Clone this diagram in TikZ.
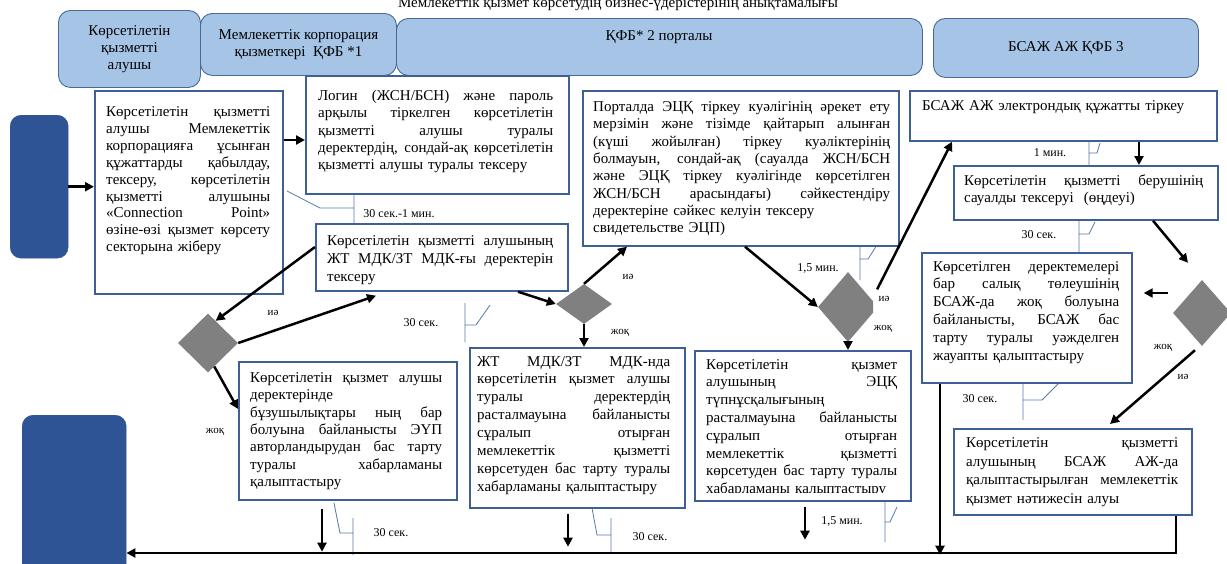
\documentclass[tikz,border=0pt]{standalone}
\usepackage{fontspec}
\setmainfont{Liberation Serif}
\usetikzlibrary{arrows.meta,shapes.geometric}
\definecolor{hdrfill}{RGB}{166,196,230}
\definecolor{hdrline}{RGB}{72,106,152}
\definecolor{navy}{RGB}{47,84,150}
\definecolor{boxline}{RGB}{62,96,150}
\definecolor{calline}{RGB}{88,122,170}
\definecolor{dgray}{RGB}{128,128,128}
\newcommand\bodyfont{\fontsize{15pt}{17.3pt}\selectfont}
\newcommand\tmfont{\fontsize{12pt}{14pt}\selectfont}
\newcommand\ynfont{\fontsize{11pt}{13pt}\selectfont}
% one justified line, spaces stretched to the full text width
\newcommand\jline[1]{\leavevmode\hbox to \hsize{\spaceskip=0pt\relax\xspaceskip=0pt\relax #1}}
\tikzset{
  hdr/.style={draw=hdrline, fill=hdrfill, line width=0.9pt, rounded corners=12pt,
    anchor=north west, inner sep=0pt, align=center, font=\fontsize{15pt}{17pt}\selectfont},
  navybox/.style={draw=navy, fill=navy, rounded corners=11pt, anchor=north west, inner sep=0pt},
  box/.style={draw=boxline, fill=white, line width=1.7pt, anchor=north west, inner sep=0pt},
  txt/.style={anchor=base west, inner sep=0pt, text width=#1, align=left, font=\bodyfont},
  dia/.style={shape=diamond, fill=dgray, inner sep=0pt},
  arr/.style={line width=2.5pt, -{Triangle[length=9pt,width=9pt]}},
  cal/.style={draw=calline, line width=0.8pt},
  tm/.style={font=\tmfont, inner sep=1pt},
  yn/.style={font=\ynfont, inner sep=1pt}
}
\begin{document}
\begin{tikzpicture}[x=1pt,y=-1pt]
\useasboundingbox (0,0) rectangle (1227,563);

% title, cut at the top
\node[anchor=base, font=\bodyfont] (title) at (618,7) {Мемлекеттік қызмет көрсетудің бизнес-үдерістерінің анықтамалығы};

% lanes
\node[hdr, minimum width=142pt, minimum height=77pt] (hrecv) at (58,10) {Көрсетілетін\\қызметті\\алушы};
\node[hdr, minimum width=196pt, minimum height=62pt] (hcorp) at (200,13) {Мемлекеттік корпорация\\қызметкері\ \ ҚФБ *1};
\node[hdr, minimum width=526pt, minimum height=57pt] (hportal) at (396,18) {};
\node[font=\bodyfont] (hportaltxt) at (659,37) {ҚФБ* 2 порталы};
\node[hdr, minimum width=265pt, minimum height=59pt] (hbsaj) at (933,18) {БСАЖ АЖ ҚФБ 3};

% start / end
\node[navybox, minimum width=58pt, minimum height=143pt] (db1) at (10,115) {};
\node[navybox, minimum width=104pt, minimum height=166pt] (db2) at (22,415) {};

% time callouts
\draw[cal] (287,191) -- (320,208) -- (354,208) (354,192) -- (354,228);
\draw[cal] (465,303) -- (465,342) (465,325) -- (476,325) -- (490,305);
\draw[cal] (860,242) -- (860,280) (860,259) -- (868,259) -- (877,245);
\draw[cal] (1089,136) -- (1089,170) (1089,153) -- (1097,153) -- (1100,143);
\draw[cal] (1079,217) -- (1079,257) (1079,234) -- (1089,234) -- (1095,222);
\draw[cal] (1023,377) -- (1023,420) (1023,400) -- (1042,400) -- (1059,383);
\draw[cal] (334,503) -- (340,533) -- (353,533) (353,518) -- (353,555);
\draw[cal] (592,508) -- (597,535) -- (611,535) (611,518) -- (611,553);
\draw[cal] (885,502) -- (885,542) (885,522) -- (890,522) -- (897,507);

% boxes
\node[box, minimum width=188pt, minimum height=203pt] (recv) at (94,90) {};
\node[txt=164pt, font=\fontsize{15pt}{16.9pt}\selectfont] (recvtxt) at (106,116.5) {\jline{Көрсетілетін қызметті}\\
\jline{алушы Мемлекеттік}\\
\jline{корпорацияға ұсынған}\\
\jline{құжаттарды қабылдау,}\\
\jline{тексеру, көрсетілетін}\\
\jline{қызметті алушыны}\\
\jline{«Connection Point»}\\
\jline{өзіне-өзі қызмет көрсету}\\
секторына жіберу};

\node[box, minimum width=263pt, minimum height=118pt] (login) at (305,75) {};
\node[txt=235pt] (logintxt) at (318,100.5) {\jline{Логин (ЖСН/БСН) және пароль}\\
\jline{арқылы тіркелген көрсетілетін}\\
\jline{қызметті алушы туралы}\\
\jline{деректердің, сондай-ақ көрсетілетін}\\
қызметті алушы туралы тексеру};

\node[box, minimum width=252pt, minimum height=67pt] (check) at (315,223) {};
\node[txt=226pt, font=\fontsize{15pt}{18pt}\selectfont] (checktxt) at (327,245.5) {\jline{Көрсетілетін қызметті алушының}\\
\jline{ЖТ МДК/ЗТ МДК-ғы деректерін}\\
тексеру};

\node[box, minimum width=316pt, minimum height=155pt] (portal) at (582,90) {};
\node[txt=297pt] (portaltxt) at (593,111.5) {\jline{Порталда ЭЦҚ тіркеу куәлігінің әрекет ету}\\
\jline{мерзімін және тізімде қайтарып алынған}\\
\jline{(күші жойылған) тіркеу куәліктерінің}\\
\jline{болмауын, сондай-ақ (сауалда ЖСН/БСН}\\
\jline{және ЭЦҚ тіркеу куәлігінде көрсетілген}\\
\jline{ЖСН/БСН арасындағы) сәйкестендіру}\\
деректеріне сәйкес келуін тексеру\\
свидетельстве ЭЦП)};

\node[box, minimum width=307pt, minimum height=50pt] (reg) at (909,90) {};
\node[txt=280pt] (regtxt) at (922,110.5) {БСАЖ АЖ электрондық құжатты тіркеу};

\node[box, minimum width=264pt, minimum height=54pt] (proc) at (953,165) {};
\node[txt=239pt] (proctxt) at (964,185.5) {\jline{Көрсетілетін қызметті берушінің}\\
сауалды тексеруі\ \ (өңдеуі)};

\node[box, minimum width=210pt, minimum height=130pt] (refuse) at (921,252) {};
\node[txt=186pt, font=\fontsize{15pt}{17.8pt}\selectfont] (refusetxt) at (933,271) {\jline{Көрсетілген деректемелері}\\
\jline{бар салық төлеушінің}\\
\jline{БСАЖ-да жоқ болуына}\\
\jline{байланысты, БСАЖ бас}\\
\jline{тарту туралы уәжделген}\\
жауапты қалыптастыру};

\node[box, minimum width=218pt, minimum height=138pt] (authno) at (238,361) {};
\node[txt=192pt] (authnotxt) at (250,382.5) {\jline{Көрсетілетін қызмет алушы}\\
деректерінде\\
\jline{бұзушылықтары ның бар}\\
\jline{болуына байланысты ЭҮП}\\
\jline{авторландырудан бас тарту}\\
\jline{туралы хабарламаны}\\
қалыптастыру};

\node[box, minimum width=215pt, minimum height=160pt] (gbdno) at (469,347) {};
\node[txt=193pt, font=\fontsize{15pt}{17.9pt}\selectfont] (gbdnotxt) at (477,366) {\jline{ЖТ МДК/ЗТ МДК-нда}\\
\jline{көрсетілетін қызмет алушы}\\
\jline{туралы деректердің}\\
\jline{расталмауына байланысты}\\
\jline{сұралып отырған}\\
\jline{мемлекеттік қызметті}\\
\jline{көрсетуден бас тарту туралы}\\
хабарламаны қалыптастыру};

\node[box, minimum width=216pt, minimum height=150pt] (signo) at (694,350) {};
\begin{scope}
\clip (694,350) rectangle (910,492);
\node[txt=191pt, font=\fontsize{15pt}{17.8pt}\selectfont] (signotxt) at (706,369) {\jline{Көрсетілетін қызмет}\\
\jline{алушының ЭЦҚ}\\
түпнұсқалығының\\
\jline{расталмауына байланысты}\\
\jline{сұралып отырған}\\
\jline{мемлекеттік қызметті}\\
\jline{көрсетуден бас тарту туралы}\\
хабарламаны қалыптастыру};
\end{scope}

\node[box, minimum width=238pt, minimum height=86pt] (result) at (953,428) {};
\node[txt=212pt, font=\fontsize{15pt}{18.5pt}\selectfont] (resulttxt) at (966,447.5) {\jline{Көрсетілетін қызметті}\\
\jline{алушының БСАЖ АЖ-да}\\
\jline{қалыптастырылған мемлекеттік}\\
қызмет нәтижесін алуы};

% decisions
\node[dia, minimum width=60pt, minimum height=59pt] (d1) at (208,343) {};
\node[dia, minimum width=56pt, minimum height=40pt] (d2) at (584,304) {};
\begin{scope}
\clip (800,260) rectangle (873,350);
\node[dia, minimum width=60pt, minimum height=70pt] (d3) at (848,307) {};
\end{scope}
\node[dia, minimum width=58pt, minimum height=66pt] (d4) at (1202,313) {};

% arrows
\draw[arr] (db1.east) -- (db1.east -| recv.west);
\draw[arr] ([shift={(0,50)}]recv.north east) -- ([shift={(0,65)}]login.north west);
\draw[arr] ([shift={(0,24)}]check.north west) -- (d1.71);
\draw[arr] (d1.east) -- ([shift={(61,4)}]check.south west);
\draw[arr] (d1.-75) -- ([shift={(0,48)}]authno.north west);
\draw[arr] ([shift={(203,0)}]check.south west) -- (d2.west);
\draw[arr] (d2.north) -- ([shift={(45,0)}]portal.south west);
\draw[arr] (d2.south) -- (d2.south |- gbdno.north);
\draw[arr] ([shift={(163,0)}]portal.south west) -- (d3.west);
\draw[arr] ([shift={(14,0)}]d3.north east) -- ([shift={(43,0)}]reg.south west);
\draw[arr] (d3.south) -- (d3.south |- signo.north);
\draw[arr] ([shift={(230,0)}]reg.south west) -- ([shift={(186,0)}]proc.north west);
\draw[arr] ([shift={(200,0)}]proc.south west) -- ([shift={(-14,-17)}]d4.north);
\draw[arr] ([shift={(-5,-20)}]d4.west) -- ([shift={(11,41)}]refuse.north east);
\draw[arr] ([shift={(-7,4)}]d4.south) -- ([shift={(157,-4)}]result.north west);

% to the end
\coordinate (bend) at (1176,553);
\draw[arr] ([shift={(84,8)}]authno.south west) -- ++(0,43);
\draw[arr] ([shift={(99,5)}]gbdno.south west) -- ++(0,33);
\draw[arr] ([shift={(111,5)}]signo.south west) -- ++(0,33);
\draw[arr] ([shift={(19,0)}]refuse.south west) -- ++(0,171);
\draw[arr, line width=2.8pt] ([shift={(223,0)}]result.south west) -- (bend) -- (bend -| db2.east);

% labels
\node[tm] (t1) at (399,214) {30 сек.-1 мин.};
\node[tm] (t2) at (421,323) {30 сек.};
\node[tm] (t3) at (818,268) {1,5 мин.};
\node[tm] (t4) at (1050,153) {1 мин.};
\node[tm] (t5) at (1039,235) {30 сек.};
\node[tm] (t6) at (980,399) {30 сек.};
\node[tm] (t7) at (391,533) {30 сек.};
\node[tm] (t8) at (650,537) {30 сек.};
\node[tm] (t9) at (842,521) {1,5 мин.};
\node[yn] (y1) at (273,313) {иә};
\node[yn] (n1) at (215,432) {жоқ};
\node[yn] (y2) at (628,277) {иә};
\node[yn] (n2) at (620,333) {жоқ};
\node[yn] (y3) at (884,299) {иә};
\node[yn] (n3) at (883,329) {жоқ};
\node[yn] (n4) at (1163,348) {жоқ};
\node[yn] (y4) at (1183,377) {иә};
\end{tikzpicture}
\end{document}
